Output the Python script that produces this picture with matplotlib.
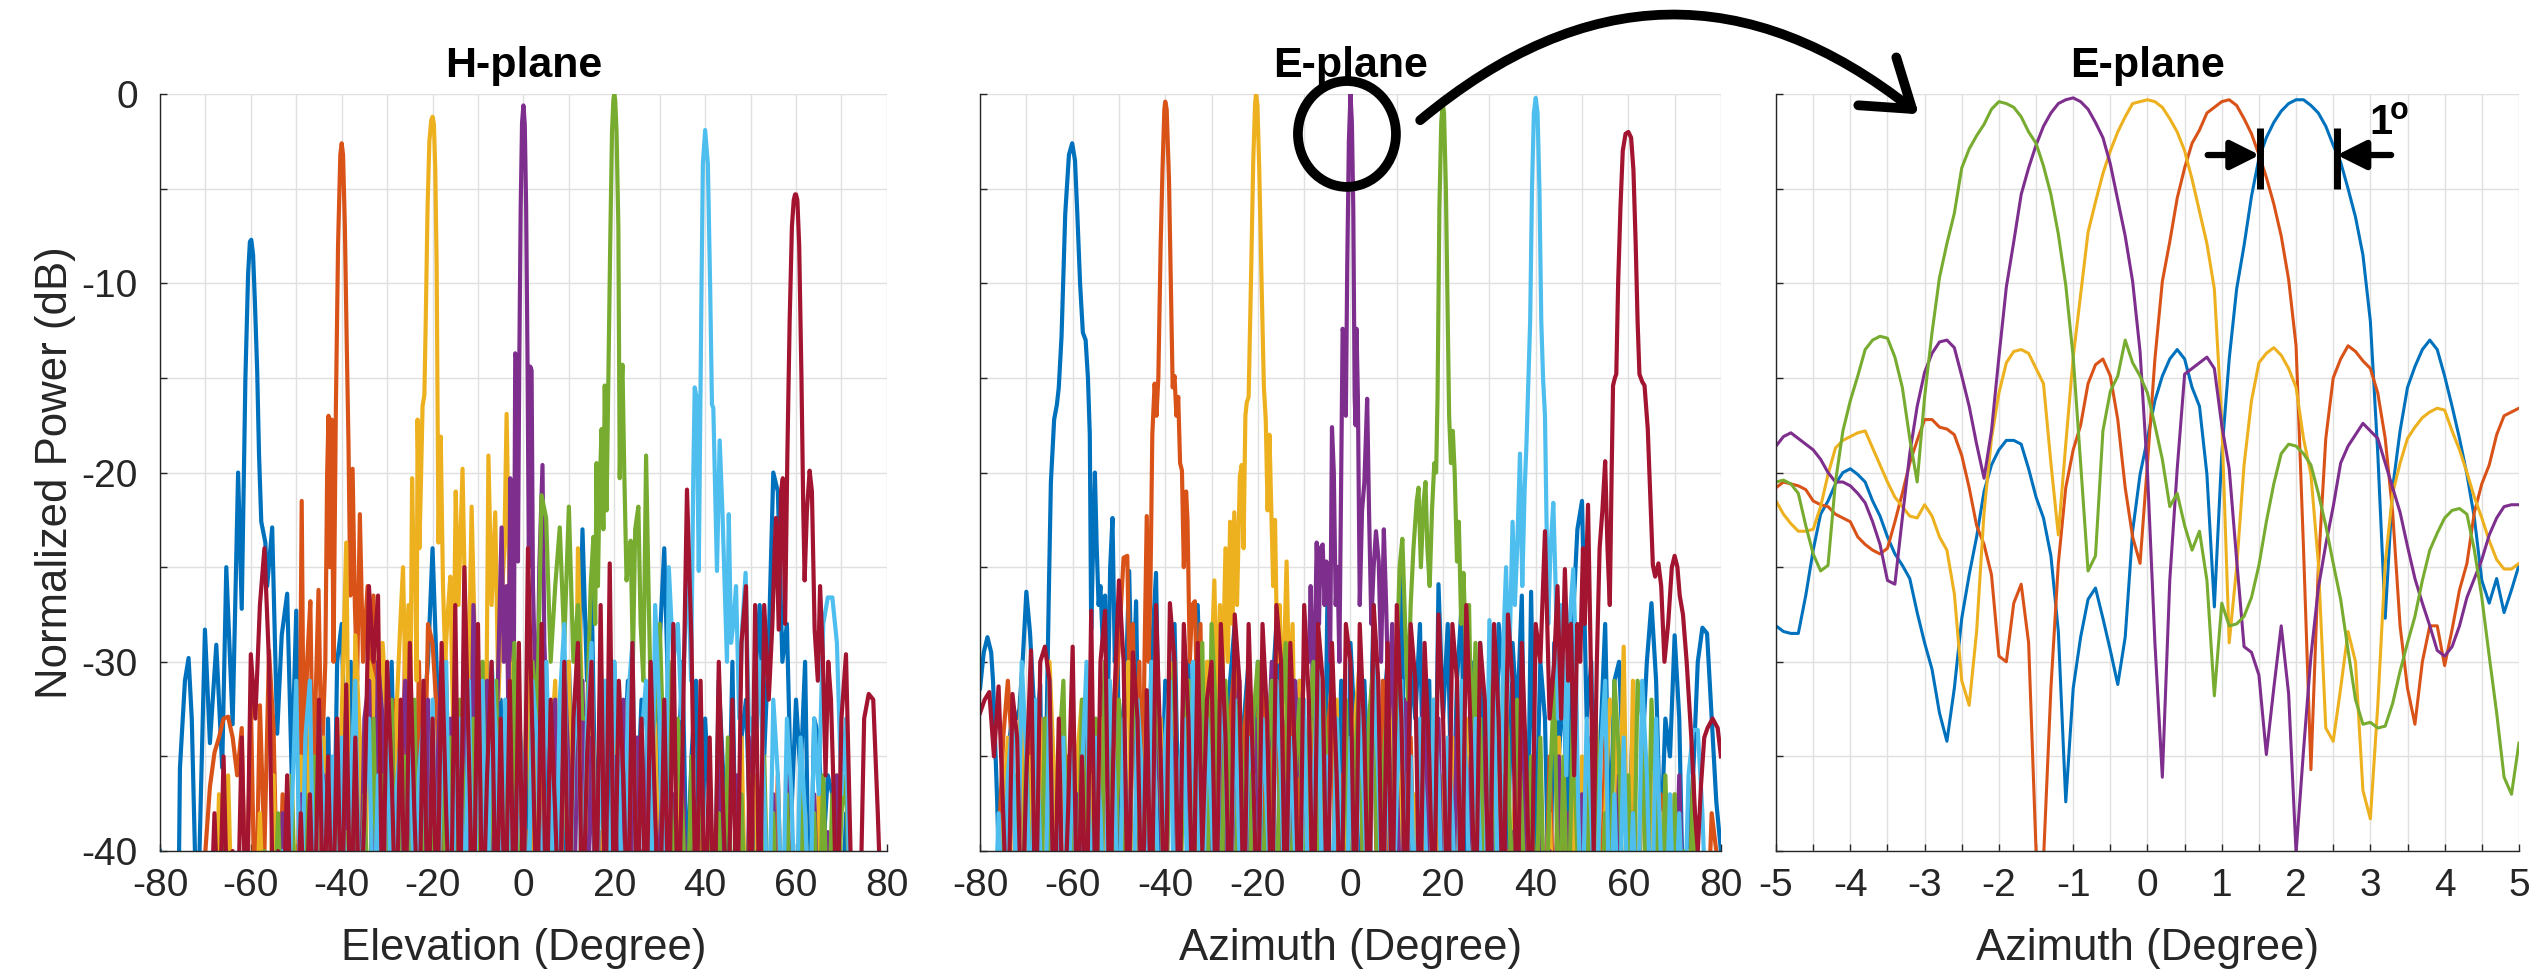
import numpy as np
import matplotlib
matplotlib.use('Agg')
import matplotlib.pyplot as plt
from matplotlib.patches import Ellipse, FancyArrowPatch

plt.rcParams['font.family'] = ['Liberation Sans', 'DejaVu Sans']

COLORS = ['#0072BD', '#D95319', '#EDB120', '#7E2F8E', '#77AC30', '#4DBEEE', '#A2142F']

# ---------------- Panel 1 : H-plane (floor sampled every 1 deg from -80 to 80) -------------
h_blue_floor = [-40,-45,-45,-45,-42,-34,-30,-33,-45,-31,-28,-35,-29,-36,-33,-25,-33,-20,-27,-15,
    -8,-15,-23,-24,-23,-34,-29,-26,-36,-27,-42,-33,-45,-31,-40,-36,-44,-33,-45,-30,
    -28,-38,-30,-45,-34,-41,-31,-45,-36,-33,-45,-30,-42,-35,-45,-32,-40,-45,-33,-30,
    -24,-31,-45,-33,-38,-30,-45,-35,-41,-31,-44,-34,-30,-45,-36,-32,-45,-29,-38,-33,
    -42,-35,-45,-31,-40,-30,-45,-33,-37,-45,-30,-38,-34,-23,-31,-26,-40,-32,-45,-35,
    -30,-44,-36,-31,-45,-38,-32,-45,-33,-40,-29,-24,-33,-45,-36,-30,-42,-35,-31,-45,
    -33,-38,-45,-31,-36,-42,-30,-45,-34,-32,-40,-31,-27,-35,-29,-20,-21,-30,-28,-38,
    -32,-36,-30,-45,-33,-34,-40,-36,-37,-42,-45,-38,-45,-45,-45,-45,-45,-45,-45,-45, -45]
h_blue_lobe = [(-76,-45),(-75.6,-35.6),(-74.5,-31),(-73.7,-29.8),(-73,-33),(-71.8,-45),(-70.1,-28.3),
    (-69,-34.3),(-67.6,-29.1),(-66.3,-35.6),(-65.4,-25),(-64,-33.3),(-62.8,-20),(-62,-27.2),(-61.2,-15.1),
    (-60.6,-9.5),(-60.2,-7.8),(-59.9,-7.7),(-59.5,-8.5),(-59.1,-11),(-58.6,-14.6),(-58.2,-19),(-57.7,-22.6),
    (-57.2,-23.2),(-56.8,-23.7),(-56.4,-26),(-55.3,-22.9),(-54.2,-33.8),(-53.2,-28.6),(-52,-26.4),(-51,-36),
    (-50,-27.3),(-49.3,-40)]

h_orange_floor = [-45,-45,-45,-45,-45,-45,-45,-45,-45,-45,-40,-36.6,-34.8,-34,-33,-32.9,-34,-36,-33.5,-45,
    -32,-45,-32.3,-40,-29.4,-33.5,-45,-37,-45,-38,-45,-21.5,-37,-26.8,-36,-26.2,-35.6,-33,-26,-34,
    -2.6,-14,-22,-27,-22,-30,-26,-35,-28,-38,-30,-40,-32,-45,-28,-38,-45,-30,-40,-28,
    -29,-33,-45,-31,-40,-35,-45,-33,-38,-45,-36,-42,-45,-37,-45,-40,-45,-38,-45,-42,
    -45,-39,-45,-45,-36,-45,-45,-40,-45,-45,-38,-45,-45,-36,-45,-45,-45,-39,-45,-45,
    -45,-45,-37,-45,-45,-45,-40,-45,-45,-45,-38,-45,-45,-45,-45,-36,-45,-45,-45,-39,
    -45,-45,-45,-45,-37,-45,-45,-45,-45,-40,-45,-45,-38,-45,-45,-45,-36,-45,-45,-45,
    -45,-38,-45,-45,-45,-39,-45,-45,-45,-45,-45,-45,-45,-45,-45,-45,-45,-45,-45,-45, -45]
h_orange_lobe = [(-50,-45),(-49.3,-37),(-48.8,-21.5),(-48.3,-37),(-47.6,-30),(-46.9,-26.8),(-46.3,-37),
    (-45.1,-26.2),(-44.4,-35.6),(-43.6,-30),(-43.2,-20),(-42.9,-17),(-42.6,-25),(-42.2,-17.2),(-41.8,-30),
    (-41.3,-17),(-40.8,-8),(-40.3,-3.2),(-40,-2.6),(-39.7,-3.2),(-39.3,-7),(-38.9,-13),(-38.5,-18.5),
    (-38.1,-26.5),(-37.6,-19.8),(-37.1,-27),(-36.6,-31),(-36,-22.2),(-35.3,-30),(-34.3,-26),(-33.6,-35),
    (-33,-26.5),(-32.2,-38),(-31.5,-30),(-30.8,-41),(-30,-32)]

h_yellow_floor = [-45,-45,-45,-45,-45,-45,-45,-45,-45,-45,-45,-45,-45,-37,-45,-36,-45,-45,-45,-45,
    -45,-45,-38,-45,-45,-36,-45,-40,-45,-37,-45,-35,-45,-33,-45,-38,-34,-45,-36,-45,
    -33,-23.7,-45,-28.6,-34,-45,-30,-31,-45,-29,-33,-45,-30,-27,-45,-25,-33,-28,-45,-30,
    -1.2,-10,-18,-26,-28,-25.5,-21,-27,-19.8,-27.5,-21.8,-28,-34,-30,-37,-28,-22,-16.9,-26,-34,
    -38,-30,-45,-33,-29,-45,-35,-31,-45,-34,-30,-45,-24,-33,-45,-31,-40,-45,-35,-45,
    -34,-45,-37,-32,-45,-40,-45,-36,-45,-33,-45,-38,-45,-45,-35,-45,-45,-37,-45,-45,
    -45,-36,-45,-45,-38,-45,-45,-45,-34,-45,-45,-36,-45,-45,-45,-37,-45,-45,-45,-45,
    -45,-45,-38,-45,-45,-37,-45,-45,-45,-36,-45,-45,-45,-45,-45,-45,-45,-45,-45,-45, -45]
h_yellow_lobe = [(-28,-33),(-27.1,-28),(-26.5,-25),(-26,-31),(-25.3,-27),(-24.9,-33),(-24.5,-20.3),
    (-24.1,-26),(-23.8,-25.7),(-23.5,-31),(-23.3,-17.2),(-22.9,-24),(-22.6,-21),(-22.2,-16.5),(-21.8,-15.9),
    (-21.5,-12),(-21.1,-6),(-20.7,-2.5),(-20.3,-1.4),(-20,-1.2),(-19.7,-1.6),(-19.4,-4),(-19.1,-9),
    (-18.7,-23.7),(-18.2,-18.1),(-17.7,-26),(-17.2,-30),(-16.8,-28),(-16.1,-25.5),(-15.5,-33),(-14.9,-21),
    (-14.3,-27),(-13.4,-19.8),(-12.8,-27.5),(-12.2,-33),(-11.4,-21.8),(-10.8,-28),(-10,-34),(-9,-30),
    (-8.3,-37),(-7.7,-19.1),(-7,-27),(-6.2,-22.1),(-5.5,-32),(-4.8,-27),(-4.2,-24),(-3.7,-16.9),(-3.1,-26),
    (-2.4,-34),(-1.6,-30),(-1,-38)]

h_purple_floor = [-45]*20 + [-45,-45,-45,-45,-45,-45,-45,-38,-45,-45,-45,-37,-45,-45,-38,-45,-36,-45,-45,-37,
    -45,-38,-45,-36,-45,-33,-31,-45,-30,-33,-45,-32,-45,-36,-31,-45,-33,-40,-45,-32,
    -45,-36,-30,-45,-33,-38,-45,-28,-45,-27,-35,-45,-31,-45,-22.9,-30,-35,-20,-28,-25,
    -0.5,-14,-26,-34,-20,-33,-38,-32,-45,-30,-36,-45,-33,-31,-45,-34,-45,-30,-38,-45,
    -35,-45,-32,-45,-38,-34,-45,-36,-31,-45,-40,-33,-45,-37,-45,-35,-45,-39,-45,-33,
    -45,-38,-45,-35,-45,-40,-45,-36,-45,-45,-34,-45,-39,-45,-45,-37,-45,-45,-36,-45,
    -45,-38,-45,-45,-37,-45,-45,-39,-45,-36,-45,-45,-45,-45,-45,-45,-45,-45,-45,-45, -45]
h_purple_lobe = [(-6,-35),(-5.3,-28),(-4.8,-22.9),(-4.3,-30),(-3.7,-26),(-3.3,-33),(-2.9,-20.3),(-2.5,-28),
    (-2.1,-30),(-1.8,-13.7),(-1.5,-14),(-1.2,-24.7),(-0.9,-14),(-0.6,-6),(-0.3,-1.5),(0,-0.6),(0.3,-1.6),
    (0.6,-6),(0.9,-14),(1.2,-25),(1.5,-14.4),(1.8,-14.6),(2.1,-26),(2.5,-30),(3,-34),(3.5,-25),(4.2,-19.6),
    (4.6,-29),(5.2,-33),(6,-38)]

h_green_floor = [-45,-45,-45,-45,-45,-45,-45,-45,-45,-45,-45,-45,-45,-45,-38,-45,-45,-45,-45,-45,
    -45,-45,-45,-40,-45,-45,-38,-45,-45,-36,-45,-45,-37,-45,-35,-45,-45,-38,-45,-36,
    -45,-39,-45,-34,-45,-37,-45,-33,-45,-36,-45,-32,-45,-38,-35,-45,-32,-45,-36,-45,
    -37,-45,-31,-45,-34,-45,-32,-38,-45,-33,-45,-30,-45,-35,-31,-45,-33,-45,-29,-45,
    -36,-45,-30,-33,-21.2,-22.4,-30,-26,-22.9,-29,-21.8,-30,-27,-33,-26,-23,-28,-18,-22,-15,
    0,-15,-20,-24,-24,-22,-28,-19,-30,-33,-28,-36,-30,-45,-33,-38,-45,-35,-45,-33,
    -45,-36,-45,-38,-45,-34,-45,-45,-37,-45,-36,-45,-45,-35,-45,-38,-45,-45,-37,-45,
    -45,-36,-45,-45,-38,-45,-36,-45,-37,-45,-38,-36,-45,-45,-45,-45,-45,-45,-45,-45, -45]
h_green_lobe = [(14,-33),(14.8,-26),(15.4,-23.4),(15.8,-28),(16.1,-19.5),(16.4,-26),(16.7,-21.5),(17.2,-17.7),
    (17.6,-23),(17.9,-15.4),(18.3,-22),(18.7,-15.1),(19.1,-8),(19.5,-2),(19.8,-0.3),(20,0),(20.2,-0.3),
    (20.5,-2),(20.9,-7),(21.2,-20.3),(21.5,-16),(21.8,-14.3),(22.2,-20),(22.7,-25.7),(23.2,-24.6),
    (23.6,-23.6),(24.1,-30),(24.6,-23),(25.3,-21.8),(25.8,-28),(26.4,-31),(27,-19.1),(27.6,-27),(28.2,-34)]

h_lblue_floor = [-45]*20 + [-45,-45,-45,-45,-45,-45,-45,-40,-45,-38,-31,-45,-34,-31,-45,-33,-37,-45,-35,-45,
    -34,-45,-36,-31,-45,-38,-33,-45,-36,-45,-32,-45,-37,-34,-45,-31,-45,-36,-33,-45,
    -32,-45,-35,-30,-45,-37,-33,-45,-31,-45,-35,-31,-45,-30,-34,-45,-32,-37,-45,-33,
    -36,-45,-31,-34,-45,-30,-37,-45,-32,-28,-45,-35,-31,-45,-33,-29,-45,-34,-31,-45,
    -30,-36,-45,-32,-29,-45,-34,-31,-45,-27,-33,-45,-25,-30,-45,-27,-24,-30,-16,-25,
    -1.9,-12,-16,-21,-20,-26,-30,-28,-29,-25,-33,-35,-30,-37,-45,-32,-36,-45,-33,-37,
    -45,-34,-38,-45,-33,-37,-28,-26.6,-26.6,-29,-37,-33,-45,-45,-45,-45,-45,-45,-45,-45, -45]
h_lblue_lobe = [(34,-28),(34.8,-33),(35.5,-29),(36.2,-24.4),(36.9,-31),(37.4,-20),(37.7,-15.5),(38.1,-16),
    (38.6,-25.2),(39.2,-10.2),(39.5,-3.7),(40,-1.9),(40.6,-3.7),(41.1,-10.2),(41.5,-16.4),(41.8,-16.6),
    (42.2,-21),(42.6,-25.2),(43.2,-18.3),(43.8,-22),(44.3,-26),(44.8,-30),(45.2,-22.2),(45.7,-29),
    (46.2,-28),(46.8,-26),(47.5,-33),(48.2,-28),(48.9,-25.3),(49.6,-33)]

h_red_floor = [-45,-45,-45,-45,-45,-45,-45,-45,-45,-45,-45,-45,-38,-45,-35,-45,-40,-45,-34,-45,
    -29.6,-33,-27,-24,-30,-45,-40,-45,-36,-45,-45,-38,-45,-37,-45,-32,-45,-35,-45,-33,
    -45,-31.2,-45,-34,-45,-38,-26,-30,-26.5,-45,-30,-36,-45,-32,-45,-29,-38,-45,-31,-45,
    -33,-45,-29,-38,-45,-27,-45,-25,-35,-45,-28,-45,-36,-30,-45,-33,-45,-31,-45,-29,
    -45,-24,-34,-45,-28,-45,-32,-38,-45,-30,-45,-33,-29,-45,-35,-30,-45,-27,-45,-24.8,
    -45,-31,-36,-45,-29,-45,-33,-45,-30,-38,-45,-32,-45,-28,-45,-35,-20.9,-29,-45,-31,
    -45,-34,-45,-30,-38,-45,-32,-45,-29,-26,-45,-27,-45,-27,-35,-28,-30,-22,-19,-12,
    -5.3,-17,-25,-20,-28,-29,-30,-32,-38,-45,-33,-29.6,-40,-45,-45,-33,-31.7,-32,-38,-45, -45]
h_red_lobe = [(54,-32),(54.8,-28),(55.3,-24),(55.6,-22.4),(56.2,-28.3),(56.7,-21),(57.1,-20.3),(57.6,-28),
    (58.1,-19),(58.6,-12),(59.1,-7),(59.5,-5.6),(59.8,-5.3),(60,-5.3),(60.3,-5.6),(60.7,-8),(61.2,-15),
    (61.6,-22),(61.9,-25.7),(62.4,-22),(63,-19.9),(63.5,-21),(64.1,-28.3),(64.8,-31),(65.3,-26),
    (65.9,-29.6),(66.5,-36),(67.1,-30),(67.7,-32),(68.3,-37)]

# ---------------- Panel 2 : E-plane -------------
e_blue_floor = [-45]*20 + [-45,-45,-45,-45,-45,-45,-45,-45,-45,-45,-45,-45,-45,-45,-45,-33,-40,-30,-25.3,-40,
    -31,-36,-28,-40,-33,-30,-45,-27,-35,-31,-40,-29,-36,-45,-31,-28,-40,-33,-30,-45,
    -30,-35,-45,-32,-28,-40,-34,-29,-45,-31,-36,-45,-30,-33,-45,-27,-34,-40,-31,-45,
    -29,-34,-45,-31,-38,-27,-45,-33,-30,-40,-35,-25,-45,-30,-33,-28,-40,-31,-45,-25.9,
    -33,-28,-40,-31,-27,-45,-30,-35,-29,-40,-32,-45,-28,-31,-40,-29,-33,-26.5,-45,-26.3,
    -40,-30,-33,-45,-29,-35,-31,-40,-28,-23,-21.5,-33,-30,-45,-34,-28,-40,-31,-30,-36,
    -40,-33,-45,-35,-30,-26.9,-31,-40,-33,-35,-28.6,-33,-45,-40,-36,-30,-28.2,-28.5,-33,-37.4, -40]
e_blue_lobe = [(-80,-31.4),(-79.2,-29.5),(-78.4,-28.7),(-77.6,-29.5),(-77.2,-31),(-76.3,-37.4),(-75.5,-45),
    (-74.5,-37),(-73.7,-34.3),(-73,-32.7),(-72.2,-33),(-71.5,-32.5),(-70.8,-30),(-70,-26.3),(-69.2,-28.5),
    (-68.5,-31.7),(-67.8,-34),(-67,-31.2),(-66.3,-45),(-65.6,-33),(-65.1,-25.7),(-64.7,-20.5),(-64,-17.2),
    (-63.4,-16.4),(-63,-15.5),(-62.4,-12.8),(-61.6,-6.3),(-60.8,-3.2),(-60.1,-2.6),(-59.5,-3.5),(-59,-6.3),
    (-58.4,-10),(-57.8,-12.6),(-57.2,-13),(-56.7,-15),(-56.3,-18),(-56,-28.3),(-55.6,-24),(-55.2,-20),
    (-54.8,-24),(-54.4,-27),(-54,-26),(-53.5,-29),(-53,-26.5),(-52.5,-34),(-51.9,-25),(-51.4,-22.4),
    (-50.9,-30),(-50.4,-27.3),(-49.8,-40),(-49.2,-33),(-48.5,-31),(-47.8,-25.2),(-47.1,-33),(-46.3,-26.8),
    (-45.5,-40)]

e_orange_floor = [-45,-45,-45,-45,-40,-34,-31,-35,-45,-34,-40,-32,-45,-38,-33,-45,-36,-40,-45,-35,
    -45,-37,-33,-45,-32,-40,-36,-30,-45,-33,-29,-24.5,-45,-30,-40,-33,-28,-45,-34,-30,
    -31,-31,-31,-31,-31,-31,-31,-31,-31,-31,-31,-38,-29,-45,-33,-30,-40,-34,-31,-45,
    -33,-30,-45,-35,-31,-40,-34,-29,-45,-36,-33,-45,-32,-38,-45,-34,-31,-45,-36,-40,
    -45,-35,-32,-45,-37,-33,-45,-31,-38,-45,-36,-33,-45,-34,-45,-38,-35,-45,-33,-40,
    -45,-36,-45,-34,-40,-45,-37,-45,-35,-45,-38,-45,-36,-45,-40,-45,-37,-45,-45,-36,
    -45,-38,-45,-35,-45,-45,-37,-45,-39,-45,-36,-45,-45,-38,-45,-34,-45,-45,-37,-45,
    -45,-36,-45,-45,-39,-45,-45,-37,-45,-45,-38,-45,-45,-45,-36,-45,-45,-45,-38,-40, -45]
e_orange_lobe = [(-48.2,-24.4),(-47.6,-33),(-47,-28),(-46.3,-38),(-45.6,-30),(-45,-40),(-44.5,-30),
    (-44,-22.3),(-43.6,-30),(-43.2,-26),(-42.8,-18),(-42.3,-15.3),(-41.9,-17),(-41.5,-15),(-41,-8),
    (-40.6,-4),(-40.2,-0.8),(-40,-0.4),(-39.7,-0.8),(-39.2,-4.5),(-38.8,-10),(-38.4,-15.5),(-38,-14.9),
    (-37.6,-17),(-37.2,-16),(-36.8,-19.5),(-36.4,-19.9),(-36,-25),(-35.5,-21),(-35.2,-22.5),(-34.7,-30),
    (-34.2,-27),(-33.6,-26.8),(-33,-34),(-32.4,-28),(-31.7,-40),(-31,-32)]

e_yellow_floor = [-45,-45,-45,-45,-45,-38,-34,-45,-37,-31,-45,-35,-40,-33,-45,-30,-36,-45,-33,-40,
    -45,-35,-32,-45,-36,-40,-33,-45,-31,-37,-45,-34,-30,-45,-35,-40,-32,-45,-36,-33,
    -45,-30,-36,-45,-33,-31,-40,-34,-45,-30,-26,-30,-36,-45,-33,-31,-40,-45,-34,-30,
    -30,-30,-30,-30,-30,-30,-30,-30,-36,-31,-45,-34,-30,-45,-33,-37,-45,-32,-45,-35,
    -45,-33,-30,-45,-35,-32,-40,-45,-34,-31,-45,-36,-33,-45,-37,-45,-35,-45,-32,-45,
    -36,-45,-34,-45,-38,-33,-45,-37,-45,-35,-45,-32,-45,-36,-45,-40,-34,-45,-37,-45,
    -45,-36,-45,-38,-45,-34,-45,-45,-37,-45,-35,-45,-45,-33,-45,-38,-32,-33,-40,-29.2,
    -45,-31,-45,-33,-45,-36,-45,-38,-45,-45,-37,-45,-45,-40,-45,-45,-45,-45,-45,-45, -45]
e_yellow_lobe = [(-30,-30),(-29.4,-25.7),(-28.8,-33),(-28.2,-27),(-27.6,-31),(-27,-24),(-26.5,-30),
    (-26,-22.6),(-25.5,-28),(-25.1,-22.1),(-24.5,-27),(-23.9,-20.2),(-23.5,-19.6),(-23.1,-24),(-22.7,-17),
    (-22.4,-16.3),(-22,-16),(-21.5,-10),(-21,-3.5),(-20.6,-0.5),(-20.4,0),(-20.1,-0.6),(-19.7,-4),
    (-19.2,-10),(-18.7,-15.5),(-18.3,-17.2),(-17.9,-22),(-17.5,-18),(-17.1,-22),(-16.7,-26),(-16.3,-22.5),
    (-15.8,-30),(-15.3,-27),(-14.7,-33),(-13.8,-24.7),(-13.2,-32),(-12.5,-28),(-12,-36)]

e_purple_floor = [-45,-45,-45,-45,-45,-45,-45,-45,-45,-45,-45,-45,-38,-45,-45,-40,-45,-36,-45,-45,
    -45,-37,-45,-33,-45,-36,-45,-30,-35,-45,-33,-40,-45,-31,-36,-45,-34,-45,-32,-38,
    -45,-33,-36,-45,-30,-38,-45,-34,-31,-45,-36,-45,-32,-38,-45,-35,-31,-45,-37,-45,
    -33,-45,-36,-30,-45,-34,-38,-45,-31,-36,-30,-30,-30,-30,-30,-30,-30,-30,-30,-30,
    -30,-30,-30,-30,-30,-30,-30,-30,-30,-30,-36,-45,-32,-38,-45,-35,-31,-45,-37,-33,
    -45,-36,-45,-33,-38,-45,-35,-45,-40,-34,-45,-37,-45,-36,-45,-39,-45,-33,-45,-38,
    -45,-36,-45,-40,-45,-35,-45,-38,-45,-45,-37,-45,-34,-45,-45,-39,-45,-45,-36,-45,
    -45,-38,-45,-45,-37,-45,-45,-45,-39,-45,-45,-36,-45,-45,-45,-45,-45,-45,-45,-45, -45]
e_purple_lobe = [(-9,-30),(-8.6,-26),(-8,-33),(-7.3,-23.7),(-6.8,-28),(-6.5,-24),(-6,-23.8),(-5.6,-27),
    (-5.2,-24.7),(-4.7,-26),(-4.4,-30),(-4,-17.6),(-3.6,-20),(-3.2,-27),(-2.8,-25),(-2.4,-30),(-2,-20),
    (-1.7,-12.4),(-1.3,-13),(-1.0,-17),(-0.7,-9),(-0.35,-2.5),(0,0),(0.3,-1.5),(0.6,-6),(0.9,-16),
    (1.1,-17.5),(1.3,-12.4),(1.6,-16),(2,-27),(2.5,-22),(3,-20.5),(3.6,-16.1),(4,-22),(4.5,-28),(5,-25),
    (5.5,-23.1),(6.1,-24.7),(6.6,-30),(7.2,-23),(7.7,-27),(8.3,-33),(9,-28),(9.6,-36)]

e_green_floor = [-45,-45,-45,-45,-45,-40,-37,-45,-36,-45,-34,-45,-38,-45,-33,-40,-45,-35,-31,-45,
    -37,-45,-32,-40,-45,-33,-45,-30,-36,-45,-32,-40,-45,-31,-35,-45,-33,-45,-29.5,-36,
    -45,-33,-30,-45,-35,-31,-45,-34,-29,-45,-28,-33,-45,-31,-36,-45,-32,-38,-45,-33,
    -30,-45,-35,-31,-45,-33,-29,-45,-36,-32,-45,-34,-30,-45,-31,-36,-45,-33,-45,-32,
    -45,-35,-31,-45,-33,-30,-45,-36,-32,-45,-30,-30,-30,-30,-30,-30,-30,-30,-30,-30,
    -30,-30,-30,-30,-30,-30,-30,-30,-33,-45,-31,-36,-45,-30,-34,-45,-32,-38,-45,-35,
    -45,-34,-45,-37,-31,-45,-35,-45,-33,-40,-45,-36,-45,-33,-45,-38,-45,-31,-35,-45,
    -36,-45,-31,-33,-45,-32,-38,-45,-36,-45,-37,-45,-40,-45,-36,-45,-45,-45,-45,-45, -45]
e_green_lobe = [(10,-30),(10.6,-25),(11.2,-23.5),(11.8,-28),(12.4,-32),(13,-27),(13.6,-24),(14.3,-21.5),
    (14.7,-20.8),(15.2,-25),(15.8,-21.5),(16.2,-20.5),(16.6,-24),(17.1,-26),(17.6,-22),(18.1,-19.5),
    (18.5,-20),(18.8,-16),(19.2,-6),(19.6,-1.5),(19.9,-0.5),(20.2,-1),(20.6,-5),(21,-12),(21.3,-17),
    (21.7,-19.5),(22.1,-17.8),(22.5,-20),(23,-24.7),(23.4,-22.6),(23.9,-28),(24.4,-25.3),(25,-30),
    (25.6,-27),(26.2,-35),(27,-29),(27.6,-40)]

e_lblue_floor = [-45,-45,-45,-45,-38,-45,-36,-33,-45,-30,-35,-45,-32,-40,-45,-31,-45,-36,-34,-45,
    -33,-45,-36,-30,-45,-34,-38,-45,-31,-36,-45,-33,-40,-45,-32,-36,-45,-30,-38,-45,
    -34,-31,-45,-36,-33,-45,-30,-37,-45,-33,-38,-45,-31,-35,-45,-32,-40,-45,-34,-36,
    -45,-33,-38,-45,-31,-36,-45,-34,-40,-45,-32,-45,-37,-30,-45,-35,-45,-33,-39,-45,
    -34,-45,-32,-38,-45,-30,-36,-45,-33,-45,-37,-31,-45,-35,-45,-33,-38,-45,-32,-36,
    -45,-34,-38,-45,-31,-36,-45,-33,-40,-45,-27.8,-32,-45,-35,-30,-30,-30,-30,-30,-30,
    -30,-30,-30,-30,-30,-30,-30,-30,-30,-30,-45,-33,-38,-45,-35,-31,-45,-37,-45,-34,
    -45,-38,-45,-31,-36,-45,-33,-40,-45,-37,-45,-38,-45,-36,-33.6,-33.6,-38,-45,-45,-45, -45]
e_lblue_lobe = [(33,-29),(33.6,-25),(34.2,-31),(35,-22.6),(35.5,-27),(36,-24),(36.6,-19),(37.1,-26),
    (37.6,-21),(38,-18.5),(38.4,-15.2),(38.8,-12),(39.2,-5),(39.6,-1),(40,-0.2),(40.4,-1),(40.8,-5),
    (41.2,-12),(41.6,-15.1),(42,-17),(42.3,-22),(42.7,-28),(43.2,-24),(43.8,-21.6),(44.3,-26),(44.8,-33),
    (45.4,-27),(46,-30),(46.6,-36),(47.3,-28),(48.1,-25.1),(48.6,-29),(49.2,-38)]

e_red_floor = [-32.7,-32,-31.6,-35,-31.3,-38,-45,-31.7,-34,-45,-36,-29.4,-45,-30,-29.2,-31,-45,-33,-45,-38,
    -29.2,-45,-35,-45,-27.3,-45,-30,-27.3,-45,-32,-25.7,-30,-45,-29.5,-33,-45,-31.5,-45,-27,-35,
    -45,-26.9,-30,-45,-28,-33,-45,-29,-40,-32,-30,-45,-28,-34,-45,-27.5,-31,-45,-28,-36,
    -45,-28,-33,-45,-27,-30,-45,-29,-35,-45,-27,-32,-45,-28,-31,-45,-29,-36,-45,-28,
    -30,-45,-28,-34,-45,-27,-31,-45,-29,-45,-27,-33,-45,-28,-31,-45,-29,-35,-45,-27.5,
    -33,-45,-28,-31,-45,-27,-34,-45,-29,-32,-45,-28,-33,-45,-27.5,-31,-45,-29,-36,-45,
    -28,-30,-23.1,-33,-30,-30,-30,-30,-30,-30,-30,-30,-30,-30,-30,-30,-30,-30,-30,-30,
    -30,-30,-30,-30,-30,-30,-30,-30,-30,-30,-30,-30,-30,-30,-30,-30,-30,-30,-30,-30, -35]
e_red_lobe = [(44,-30),(44.7,-26),(45.5,-33),(46.3,-25.1),(47,-31),(47.6,-28),(48.3,-36),(49,-28),
    (49.6,-30),(50.2,-24),(50.6,-28),(51.3,-21.7),(51.9,-30),(52.5,-40),(53.2,-30),(53.8,-24),(54.4,-22),
    (55,-19.4),(55.5,-24),(56,-27),(56.4,-20),(56.7,-15.4),(57.1,-15),(57.4,-14.8),(57.8,-10),(58.3,-6),
    (58.8,-3),(59.4,-2.1),(60,-2),(60.6,-2.3),(61.1,-4),(61.6,-8),(62,-12),(62.4,-14.8),(63,-15.2),
    (63.5,-15.4),(64.2,-17.7),(64.7,-21),(65.3,-24.9),(65.8,-25.5),(66.5,-24.8),(67.1,-26),(67.8,-30),
    (68.6,-28),(69.4,-25),(70,-24.4),(70.6,-25),(71.1,-26.5),(71.8,-27.5),(72.6,-30),(73.6,-34),(74.4,-38),
    (75,-40),(75.7,-36.5),(76.4,-34),(77.1,-33.5),(78.2,-33),(79.3,-33.5),(80,-35)]

# ---------------- Panel 3 : E-plane zoom, sampled every 0.1 deg from -5 to 5 -------------
z_blue = [-28.1,-28.4,-28.5,-28.5,-26.5,-24.1,-22.2,-21.5,-20.6,-20.0,
    -19.8,-20.1,-20.5,-21.5,-22.3,-23.4,-24.3,-24.9,-25.6,-27.4,
    -29.0,-30.4,-32.7,-34.2,-31.4,-27.7,-25.4,-23.4,-21.0,-19.6,
    -18.8,-18.3,-18.3,-18.5,-19.8,-21.3,-22.4,-24.4,-28.4,-37.4,
    -31.4,-28.7,-26.7,-26.1,-27.7,-29.4,-31.2,-28.7,-23.1,-20.1,
    -18.2,-16.2,-14.9,-14.0,-13.5,-14.0,-15.5,-16.5,-20.1,-27.1,
    -19.0,-14.0,-10.3,-8.0,-5.4,-3.4,-2.3,-1.5,-0.9,-0.5,
    -0.3,-0.3,-0.6,-1.0,-1.7,-2.7,-3.6,-5.0,-6.5,-8.5,
    -12.0,-19.0,-27.7,-20.8,-17.8,-15.5,-14.4,-13.5,-13.0,-13.5,
    -14.9,-16.5,-18.2,-20.1,-22.4,-25.7,-26.9,-25.6,-27.4,-26.2, -24.9]
z_orange = [-20.8,-20.5,-20.6,-20.7,-20.9,-21.5,-21.7,-21.8,-22.2,-22.4,
    -22.6,-23.4,-23.8,-24.1,-24.3,-24.0,-22.6,-21.1,-19.5,-18.3,
    -17.2,-17.2,-17.6,-17.7,-18.0,-19.1,-20.8,-22.8,-23.8,-25.4,
    -29.7,-30.0,-26.9,-25.9,-29.0,-40.0,-40.5,-31.4,-24.8,-20.8,
    -18.8,-17.5,-15.3,-14.3,-14.0,-14.9,-17.2,-20.8,-23.4,-24.8,
    -19.5,-14.0,-9.9,-7.8,-5.5,-3.9,-2.6,-1.9,-1.0,-0.7,
    -0.4,-0.3,-0.6,-1.3,-2.1,-3.2,-4.4,-5.8,-7.5,-9.8,
    -13.3,-24.0,-35.7,-25.0,-18.2,-15.0,-14.0,-13.3,-13.6,-14.1,
    -14.5,-15.8,-18.2,-22.1,-28.1,-31.4,-33.3,-30.0,-28.1,-28.1,
    -30.2,-28.3,-26.2,-24.8,-22.1,-20.6,-19.6,-18.0,-17.0,-16.8, -16.6]
z_yellow = [-21.5,-22.2,-22.7,-23.1,-23.1,-23.0,-21.8,-20.1,-18.7,-18.3,
    -18.1,-17.9,-17.8,-18.7,-19.6,-20.5,-21.3,-21.8,-22.3,-22.4,
    -21.7,-22.3,-23.4,-24.1,-26.4,-31.0,-32.3,-28.4,-22.1,-18.2,
    -15.8,-14.2,-13.6,-13.5,-13.7,-14.5,-15.3,-19.5,-23.3,-18.5,
    -13.9,-10.6,-7.3,-5.7,-4.2,-3.0,-2.0,-1.2,-0.5,-0.4,
    -0.3,-0.4,-0.7,-1.3,-2.0,-3.0,-4.5,-6.2,-7.9,-10.3,
    -17.3,-29.0,-25.0,-19.6,-16.2,-14.2,-13.7,-13.4,-13.8,-14.5,
    -15.5,-18.2,-20.1,-24.8,-33.5,-34.2,-31.4,-28.4,-30.0,-36.8,
    -38.3,-32.3,-24.8,-21.1,-19.5,-18.2,-17.6,-17.1,-16.8,-16.6,
    -16.7,-17.8,-18.8,-20.0,-21.3,-22.4,-23.6,-24.6,-25.1,-25.1, -24.8]
z_purple = [-18.6,-18.1,-17.9,-18.2,-18.5,-18.8,-19.3,-20.0,-20.5,-20.5,
    -20.7,-21.1,-21.6,-22.6,-23.8,-25.7,-25.9,-22.4,-19.0,-16.5,
    -14.7,-13.7,-13.1,-13.0,-13.4,-14.9,-16.5,-18.5,-20.3,-17.8,
    -13.9,-10.2,-7.8,-5.3,-3.9,-2.7,-1.7,-1.0,-0.5,-0.3,
    -0.2,-0.4,-0.8,-1.5,-2.3,-3.7,-5.6,-7.5,-9.9,-13.6,
    -20.0,-29.0,-36.1,-25.7,-19.8,-14.8,-14.5,-14.2,-13.9,-14.5,
    -17.5,-19.8,-24.6,-29.2,-29.5,-30.7,-34.9,-31.4,-28.1,-31.7,
    -40.1,-34.7,-29.7,-26.1,-23.8,-21.8,-19.5,-18.6,-18.0,-17.4,
    -17.8,-18.2,-19.5,-20.8,-22.1,-23.9,-25.6,-26.9,-28.1,-29.4,
    -29.7,-29.2,-28.1,-26.6,-25.6,-24.6,-23.3,-22.4,-21.8,-21.7, -21.7]
z_green = [-20.5,-20.4,-20.6,-21.1,-22.8,-24.3,-25.2,-24.9,-20.5,-17.8,
    -16.2,-14.9,-13.5,-13.0,-12.8,-12.9,-13.9,-15.5,-18.2,-20.5,
    -16.0,-12.6,-9.7,-7.9,-6.3,-3.9,-2.9,-2.2,-1.6,-0.8,
    -0.4,-0.5,-0.7,-1.2,-2.0,-2.6,-3.8,-5.3,-7.4,-10.1,
    -13.9,-19.5,-25.2,-24.4,-17.8,-15.7,-14.9,-13.0,-14.2,-14.9,
    -15.8,-17.5,-19.3,-21.8,-21.1,-22.8,-24.1,-23.1,-25.7,-31.8,
    -26.9,-28.1,-28.0,-27.6,-26.6,-24.9,-22.6,-20.6,-19.0,-18.5,
    -18.6,-19.0,-19.6,-21.1,-22.8,-24.8,-26.7,-29.4,-32.0,-33.3,
    -33.2,-33.5,-33.4,-32.2,-30.5,-29.0,-27.6,-25.7,-24.1,-23.2,
    -22.4,-22.0,-21.9,-22.2,-24.1,-26.6,-29.7,-32.7,-36.1,-37.0, -34.3]

h_curves = [(h_blue_floor, h_blue_lobe), (h_orange_floor, h_orange_lobe), (h_yellow_floor, h_yellow_lobe),
            (h_purple_floor, h_purple_lobe), (h_green_floor, h_green_lobe), (h_lblue_floor, h_lblue_lobe),
            (h_red_floor, h_red_lobe)]
e_curves = [(e_blue_floor, e_blue_lobe), (e_orange_floor, e_orange_lobe), (e_yellow_floor, e_yellow_lobe),
            (e_purple_floor, e_purple_lobe), (e_green_floor, e_green_lobe), (e_lblue_floor, e_lblue_lobe),
            (e_red_floor, e_red_lobe)]
z_curves = [z_blue, z_orange, z_yellow, z_purple, z_green]

def merge(floor, lobe):
    fx = np.arange(-80, 81, dtype=float)
    fy = np.array((list(floor) + [-45.0] * 161)[:161], dtype=float)
    lx = np.array([p[0] for p in lobe], dtype=float)
    ly = np.array([p[1] for p in lobe], dtype=float)
    keep = (fx < lx.min()) | (fx > lx.max())
    x = np.concatenate([fx[keep], lx])
    y = np.concatenate([fy[keep], ly])
    o = np.argsort(x, kind='stable')
    return x[o], y[o]

fig = plt.figure(figsize=(25.39, 9.8), dpi=100)
ax1 = fig.add_axes([0.0630, 0.1316, 0.2863, 0.7724])
ax2 = fig.add_axes([0.3860, 0.1316, 0.2918, 0.7724])
ax3 = fig.add_axes([0.6995, 0.1316, 0.2926, 0.7724])

def style(ax, xlim, xticks, xlabels, show_y):
    ax.set_xlim(*xlim)
    ax.set_ylim(-40, 0)
    ax.set_xticks(xticks)
    ax.set_xticklabels(xlabels)
    yt = list(range(-40, 1, 5))
    ax.set_yticks(yt)
    ax.set_yticklabels([(str(v) if v % 10 == 0 else '') if show_y else '' for v in yt])
    ax.grid(True, color='#e0e0e0', lw=1.0)
    ax.set_axisbelow(True)
    ax.tick_params(direction='in', length=5, width=1, colors='#262626', labelsize=28)
    ax.tick_params(axis='x', pad=12)
    ax.tick_params(axis='y', pad=16)
    for s in ['top', 'right']:
        ax.spines[s].set_visible(False)
    for s in ['left', 'bottom']:
        ax.spines[s].set_color('#262626')
        ax.spines[s].set_linewidth(1.0)

wide_ticks = list(range(-80, 81, 10))
wide_labels = [str(v) if v % 20 == 0 else '' for v in wide_ticks]

for (fl, lb), c in zip(h_curves, COLORS):
    x, y = merge(fl, lb)
    ax1.plot(x, y, color=c, lw=3.0)
for (fl, lb), c in zip(e_curves, COLORS):
    x, y = merge(fl, lb)
    ax2.plot(x, y, color=c, lw=3.0)
z_x = np.arange(-50, 51) / 10.0
for yv, c in zip(z_curves, COLORS[:5]):
    yy = np.array((list(yv) + [yv[-1]] * 101)[:101], dtype=float)
    ax3.plot(z_x, yy, color=c, lw=2.2)

style(ax1, (-80, 80), wide_ticks, wide_labels, True)
style(ax2, (-80, 80), wide_ticks, wide_labels, False)
zt = [v / 2.0 for v in range(-10, 11)]
style(ax3, (-5, 5), zt, [str(int(v)) if v == int(v) else '' for v in zt], False)

for ax, t in ((ax1, 'H-plane'), (ax2, 'E-plane'), (ax3, 'E-plane')):
    ax.set_title(t, fontsize=31, fontweight='bold', pad=12)
ax1.set_ylabel('Normalized Power (dB)', fontsize=31.5, color='#262626', labelpad=4)
ax1.set_xlabel('Elevation (Degree)', fontsize=31.5, color='#262626', labelpad=17.5)
ax2.set_xlabel('Azimuth (Degree)', fontsize=31.5, color='#262626', labelpad=17.5)
ax3.set_xlabel('Azimuth (Degree)', fontsize=31.5, color='#262626', labelpad=17.5)

# circle around the 0-degree beam and curved arrow to the zoomed panel
fig.add_artist(Ellipse((0.5305, 0.8633), 0.0386, 0.108, transform=fig.transFigure,
                       fill=False, lw=7, color='black'))
fig.add_artist(FancyArrowPatch((0.5585, 0.8755), (0.7566, 0.8816), transform=fig.transFigure,
                               connectionstyle='arc3,rad=-0.41',
                               arrowstyle='->,head_length=0.8,head_width=0.55',
                               mutation_scale=40, lw=7, color='black'))

# 1 degree marker
for xb in (1.51, 2.55):
    ax3.plot([xb, xb], [-1.81, -4.99], color='black', lw=5, solid_capstyle='butt', clip_on=False)
ax3.annotate('', xy=(1.51, -3.22), xytext=(0.81, -3.22),
             arrowprops=dict(arrowstyle='-|>,head_length=0.7,head_width=0.35', lw=4.5,
                             color='black', mutation_scale=25, shrinkA=0, shrinkB=0))
ax3.annotate('', xy=(2.55, -3.22), xytext=(3.28, -3.22),
             arrowprops=dict(arrowstyle='-|>,head_length=0.7,head_width=0.35', lw=4.5,
                             color='black', mutation_scale=25, shrinkA=0, shrinkB=0))
ax3.text(2.985, -2.11, '1', fontsize=30, fontweight='bold', ha='left', va='baseline')
ax3.text(3.26, -1.31, 'o', fontsize=22, fontweight='bold', ha='left', va='baseline')

fig.savefig('out.png', dpi=100)
